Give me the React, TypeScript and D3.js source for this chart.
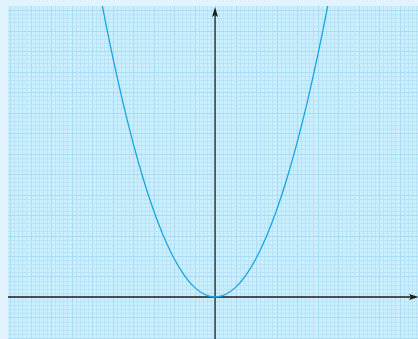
import React, { useEffect, useRef } from 'react';
import * as d3 from 'd3';

// points (x, y)
const xValues = [-6, -5.5, -5, -4.5, -4, -3.5, -3, -2.5, -2, -1.5, -1, -0.5, 0, 0.5, 1, 1.5, 2, 2.5, 3, 3.5, 4, 4.5, 5, 5.5, 6];
const yValues = [16.92, 14.22, 11.75, 9.52, 7.52, 5.76, 4.23, 2.94, 1.88, 1.06, 0.47, 0.12, 0, 0.12, 0.47, 1.06, 1.88, 2.94, 4.23, 5.76, 7.52, 9.52, 11.75, 14.22, 16.92];

const xDomain = [-10.1, 9.9];
const yDomain = [-2.05, 14.2];
const gridStep = 0.2;

const App = () => {
  const ref = useRef<SVGSVGElement>(null);

  useEffect(() => {
    const width = 418;
    const height = 339;
    const left = 8;
    const top = 6;

    const svg = d3.select(ref.current);
    svg.selectAll('*').remove();

    const x = d3.scaleLinear().domain(xDomain).range([left, width]);
    const y = d3.scaleLinear().domain(yDomain).range([height, top]);

    svg.append('rect').attr('width', width).attr('height', height).attr('fill', '#e1f4fd');
    svg
      .append('rect')
      .attr('x', left)
      .attr('y', top)
      .attr('width', width - left)
      .attr('height', height - top)
      .attr('fill', '#cdeefd');

    const defs = svg.append('defs');
    defs
      .append('clipPath')
      .attr('id', 'plot')
      .append('rect')
      .attr('x', left)
      .attr('y', top)
      .attr('width', width - left)
      .attr('height', height - top);

    // grid lines
    const grid = svg.append('g').attr('clip-path', 'url(#plot)');
    const xs = d3.range(Math.ceil(xDomain[0] / gridStep), Math.floor(xDomain[1] / gridStep) + 1);
    const ys = d3.range(Math.ceil(yDomain[0] / gridStep), Math.floor(yDomain[1] / gridStep) + 1);
    grid
      .selectAll('line.v')
      .data(xs)
      .enter()
      .append('line')
      .attr('x1', d => Math.round(x(d * gridStep)) + 0.5)
      .attr('x2', d => Math.round(x(d * gridStep)) + 0.5)
      .attr('y1', top)
      .attr('y2', height)
      .attr('stroke', d => (d % 5 === 0 ? '#a6dcf5' : '#b6e4f9'))
      .attr('stroke-width', 1);
    grid
      .selectAll('line.h')
      .data(ys)
      .enter()
      .append('line')
      .attr('y1', d => Math.round(y(d * gridStep)) + 0.5)
      .attr('y2', d => Math.round(y(d * gridStep)) + 0.5)
      .attr('x1', left)
      .attr('x2', width)
      .attr('stroke', d => (d % 5 === 0 ? '#a6dcf5' : '#b6e4f9'))
      .attr('stroke-width', 1);

    // axes
    const axisColor = '#1e1e1e';
    svg
      .append('line')
      .attr('x1', left)
      .attr('x2', width - 4)
      .attr('y1', y(0))
      .attr('y2', y(0))
      .attr('stroke', axisColor)
      .attr('stroke-width', 1.3);
    svg
      .append('line')
      .attr('x1', x(0))
      .attr('x2', x(0))
      .attr('y1', height)
      .attr('y2', top + 6)
      .attr('stroke', axisColor)
      .attr('stroke-width', 1.3);
    svg
      .append('path')
      .attr('d', `M${x(0)},${top + 1} L${x(0) - 3},${top + 11} L${x(0)},${top + 9} L${x(0) + 3},${top + 11} Z`)
      .attr('fill', axisColor);
    svg
      .append('path')
      .attr('d', `M${width + 1},${y(0)} L${width - 9},${y(0) - 3} L${width - 7},${y(0)} L${width - 9},${y(0) + 3} Z`)
      .attr('fill', axisColor);

    // curve
    const points: [number, number][] = xValues.map((d, i) => [d, yValues[i]]);
    const line = d3
      .line<[number, number]>()
      .x(d => x(d[0]))
      .y(d => y(d[1]))
      .curve(d3.curveNatural);
    svg
      .append('path')
      .attr('clip-path', 'url(#plot)')
      .attr('d', line(points))
      .attr('fill', 'none')
      .attr('stroke', '#1aa6e0')
      .attr('stroke-width', 1.3);
  }, []);

  return (
    <svg
      ref={ref}
      width={418}
      height={339}
      style={{ position: 'absolute', left: 0, top: 0, display: 'block' }}
    />
  );
};

export default App;
